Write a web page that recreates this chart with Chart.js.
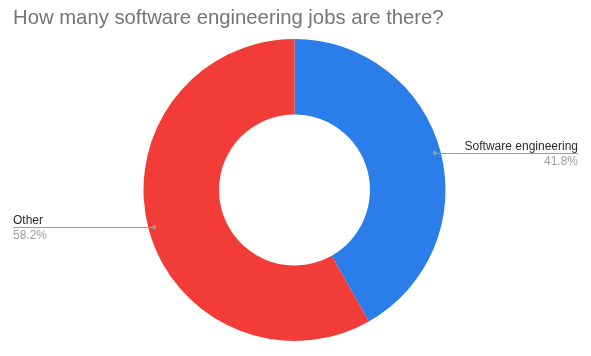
<!DOCTYPE html>
<html>
<head>
<meta charset="utf-8">
<script src="https://cdn.jsdelivr.net/npm/chart.js@4/dist/chart.umd.min.js"></script>
<style>
html,body{margin:0;padding:0;background:#fff;}
#wrap{width:591px;height:356px;position:relative;}
</style>
</head>
<body>
<div id="wrap"><canvas id="c" width="591" height="356"></canvas></div>
<script>
const titleText = "How many software engineering jobs are there?";
const categories = ["Software engineering", "Other"];
const values = [41.8, 58.2];
const percentLabels = ["41.8%", "58.2%"];
const colors = ["#2b7de9", "#f23c37"];

const labelPlugin = {
  id: "sideLabels",
  afterDraw(chart) {
    const ctx = chart.ctx;
    ctx.save();
    // title
    ctx.font = "20.3px 'Liberation Sans', Arial, sans-serif";
    ctx.fillStyle = "#757575";
    ctx.textAlign = "left";
    ctx.textBaseline = "alphabetic";
    ctx.fillText(titleText, 13, 24);

    const meta = chart.getDatasetMeta(0);
    const W = chart.width;
    meta.data.forEach((arc, i) => {
      const p = arc.getProps(["x", "y", "startAngle", "endAngle", "outerRadius"], true);
      const mid = (p.startAngle + p.endAngle) / 2;
      const r = p.outerRadius - 6;
      const dx = p.x + Math.cos(mid) * r;
      const dy = p.y + Math.sin(mid) * r;
      const right = Math.cos(mid) >= 0;
      const ly = Math.round(dy) + 0.5;
      const edge = right ? W - 13 : 13;
      ctx.strokeStyle = "#9e9e9e";
      ctx.lineWidth = 1;
      ctx.beginPath();
      ctx.moveTo(dx, ly);
      ctx.lineTo(edge, ly);
      ctx.stroke();
      ctx.fillStyle = "#9e9e9e";
      ctx.beginPath();
      ctx.arc(dx, dy, 2, 0, Math.PI * 2);
      ctx.fill();
      ctx.textAlign = right ? "right" : "left";
      ctx.font = "12px 'Liberation Sans', Arial, sans-serif";
      ctx.fillStyle = "#2a2a2a";
      ctx.fillText(categories[i], edge, ly - 3.5);
      ctx.fillStyle = "#9e9e9e";
      ctx.fillText(percentLabels[i], edge, ly + 11);
    });
    ctx.restore();
  }
};

new Chart(document.getElementById("c"), {
  type: "doughnut",
  data: {
    labels: categories,
    datasets: [{
      data: values,
      backgroundColor: colors,
      borderWidth: 0,
      hoverOffset: 0
    }]
  },
  options: {
    responsive: false,
    animation: false,
    cutout: "50%",
    layout: { padding: { top: 39, bottom: 15, left: 1, right: 3 } },
    plugins: {
      legend: { display: false },
      title: { display: false },
      tooltip: { enabled: false }
    }
  },
  plugins: [labelPlugin]
});
</script>
</body>
</html>
